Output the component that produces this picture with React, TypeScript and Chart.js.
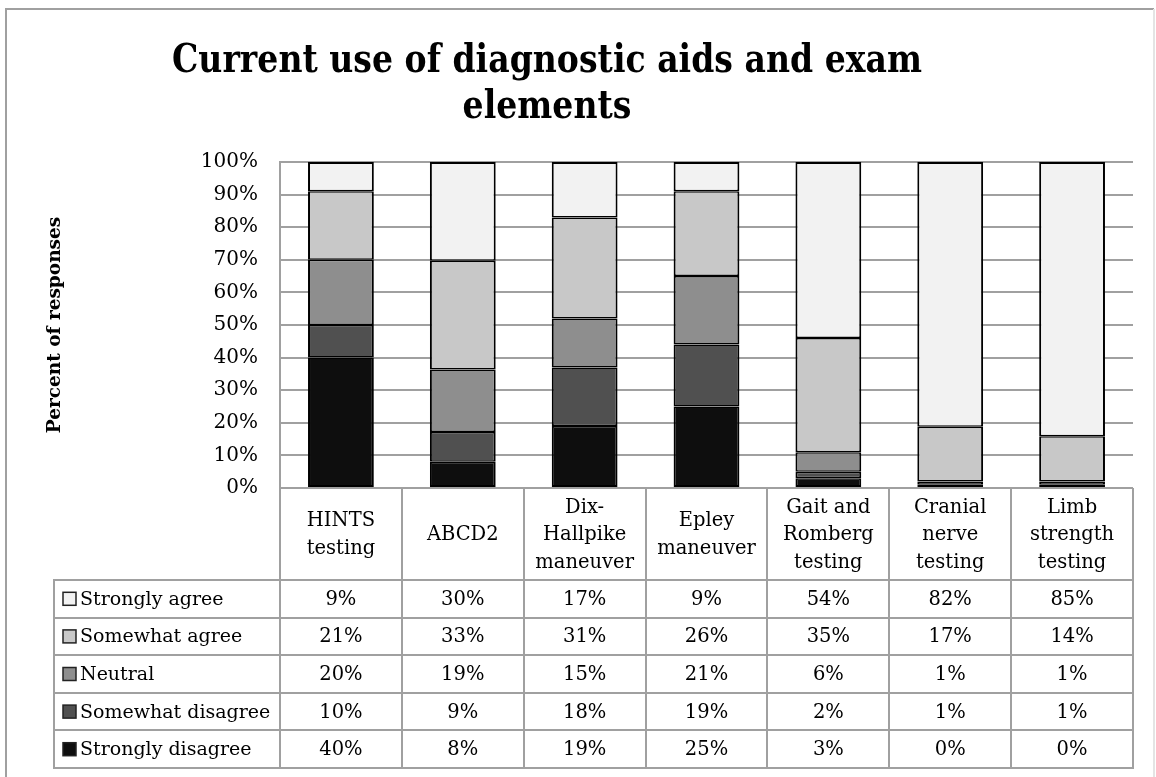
import React, { useEffect, useRef } from 'react';
import { Chart, registerables } from 'chart.js';

Chart.register(...registerables);

// ---- Data ----
const categories: string[][] = [
  ['HINTS', 'testing'],
  ['ABCD2'],
  ['Dix-', 'Hallpike', 'maneuver'],
  ['Epley', 'maneuver'],
  ['Gait and', 'Romberg', 'testing'],
  ['Cranial', 'nerve', 'testing'],
  ['Limb', 'strength', 'testing'],
];
const seriesNames = ['Strongly agree', 'Somewhat agree', 'Neutral', 'Somewhat disagree', 'Strongly disagree'];
const stronglyAgree = [9, 30, 17, 9, 54, 82, 85];
const somewhatAgree = [21, 33, 31, 26, 35, 17, 14];
const neutral = [20, 19, 15, 21, 6, 1, 1];
const somewhatDisagree = [10, 9, 18, 19, 2, 1, 1];
const stronglyDisagree = [40, 8, 19, 25, 3, 0, 0];
const seriesColors = ['#f2f2f2', '#c8c8c8', '#8e8e8e', '#505050', '#0e0e0e'];
const titleLines = ['Current use of diagnostic aids and exam', 'elements'];
const yAxisTitle = 'Percent of responses';

const tableRows = [stronglyAgree, somewhatAgree, neutral, somewhatDisagree, stronglyDisagree];

const GRID = '#a0a0a0';
const FONT = "'DejaVu Serif', serif";

export default function App() {
  const ref = useRef<HTMLCanvasElement | null>(null);

  useEffect(() => {
    const canvas = ref.current;
    if (!canvas) return;

    const totals = categories.map((_, i) => tableRows.reduce((s, r) => s + r[i], 0));
    const norm = (arr: number[]) => arr.map((v, i) => (v * 100) / totals[i]);

    // bottom-to-top stacking order
    const order = [4, 3, 2, 1, 0];
    const datasets = order.map((ri, k) => ({
      label: seriesNames[ri],
      data: norm(tableRows[ri]),
      backgroundColor: seriesColors[ri],
      borderColor: '#000',
      borderWidth: {
        left: 2,
        right: 2,
        top: k === order.length - 1 ? 2 : 1.5,
        bottom: k === 0 ? 2 : 1.5,
      },
      borderSkipped: false as const,
      inflateAmount: 0,
      barPercentage: 0.54,
      categoryPercentage: 1,
    }));

    const frame = {
      id: 'frame',
      beforeDraw(chart: any) {
        const ctx = chart.ctx;
        ctx.save();
        ctx.fillStyle = '#fff';
        ctx.fillRect(0, 0, chart.width, chart.height);
        ctx.strokeStyle = GRID;
        ctx.lineWidth = 2;
        ctx.beginPath();
        ctx.moveTo(6, 800);
        ctx.lineTo(6, 9);
        ctx.lineTo(1154, 9);
        ctx.stroke();
        ctx.strokeStyle = '#e4e4e4';
        ctx.beginPath();
        ctx.moveTo(1154, 9);
        ctx.lineTo(1154, 800);
        ctx.stroke();
        ctx.restore();
      },
    };

    const titlePlugin = {
      id: 'bigTitle',
      afterDraw(chart: any) {
        const ctx = chart.ctx;
        ctx.save();
        ctx.font = `bold 39px ${FONT}`;
        ctx.fillStyle = '#000';
        ctx.textAlign = 'center';
        ctx.textBaseline = 'alphabetic';
        const w = ctx.measureText(titleLines[0]).width;
        const sx = 750 / w;
        const cx = 547;
        const baselines = [72, 118];
        titleLines.forEach((line, i) => {
          ctx.save();
          ctx.translate(cx, baselines[i]);
          ctx.scale(sx, 1);
          ctx.fillText(line, 0, 0);
          ctx.restore();
        });
        ctx.restore();
      },
    };

    const tablePlugin = {
      id: 'dataTable',
      afterDraw(chart: any) {
        const ctx = chart.ctx;
        const xs = chart.scales.x;
        const n = categories.length;
        const left = xs.left;
        const right = xs.right;
        const cw = (right - left) / n;
        const headerTop = chart.chartArea.bottom;
        const headerBottom = 580;
        const rowH = 37.6;
        const tableBottom = headerBottom + rowH * tableRows.length;
        const legendLeft = 54;

        ctx.save();
        ctx.strokeStyle = GRID;
        ctx.lineWidth = 2;
        ctx.beginPath();
        for (let i = 0; i <= n; i++) {
          const x = Math.round(left + i * cw);
          ctx.moveTo(x, headerTop);
          ctx.lineTo(x, tableBottom);
        }
        ctx.moveTo(legendLeft, headerBottom);
        ctx.lineTo(legendLeft, tableBottom);
        for (let r = 0; r <= tableRows.length; r++) {
          const y = Math.round(headerBottom + r * rowH);
          ctx.moveTo(legendLeft - 1, y);
          ctx.lineTo(right + 1, y);
        }
        ctx.stroke();

        ctx.fillStyle = '#000';
        ctx.font = `19.5px ${FONT}`;
        ctx.textAlign = 'center';
        ctx.textBaseline = 'middle';
        const headerMid = (headerTop + headerBottom) / 2 + 1;
        const lh = 27.5;
        categories.forEach((lines, i) => {
          const cx = xs.getPixelForValue(i);
          const start = headerMid - ((lines.length - 1) * lh) / 2;
          lines.forEach((ln, j) => ctx.fillText(ln, cx, start + j * lh));
        });

        tableRows.forEach((row, r) => {
          const cy = headerBottom + r * rowH + rowH / 2 + 1;
          ctx.font = `19.5px ${FONT}`;
          row.forEach((v, i) => {
            ctx.fillStyle = '#000';
            ctx.fillText(`${v}%`, xs.getPixelForValue(i), cy);
          });
          // legend key
          const sz = 13;
          ctx.fillStyle = seriesColors[r];
          ctx.fillRect(63, cy - sz / 2 - 1, sz, sz);
          ctx.strokeStyle = '#222';
          ctx.lineWidth = 1.5;
          ctx.strokeRect(63, cy - sz / 2 - 1, sz, sz);
          ctx.fillStyle = '#000';
          ctx.textAlign = 'left';
          ctx.font = `19px ${FONT}`;
          ctx.fillText(seriesNames[r], 80, cy);
          ctx.textAlign = 'center';
        });
        ctx.restore();
      },
    };

    const chart = new Chart(canvas, {
      type: 'bar',
      data: {
        labels: categories.map((c) => c.join(' ')),
        datasets,
      },
      options: {
        responsive: false,
        animation: false,
        layout: { padding: { top: 162, bottom: 289, left: 30, right: 23 } },
        plugins: {
          legend: { display: false },
          tooltip: { enabled: false },
          title: { display: false },
        },
        scales: {
          x: {
            stacked: true,
            display: false,
          },
          y: {
            stacked: true,
            min: 0,
            max: 100,
            afterFit: (scale: any) => {
              scale.width = 250;
            },
            ticks: {
              stepSize: 10,
              padding: 22,
              color: '#000',
              font: { family: FONT, size: 20 },
              callback: (v: any) => `${v}%`,
            },
            grid: {
              color: GRID,
              lineWidth: 2,
              drawTicks: false,
            },
            border: { display: true, color: GRID, width: 2 },
            title: {
              display: true,
              text: yAxisTitle,
              color: '#000',
              font: { family: FONT, size: 18.5, weight: 'bold' },
              padding: { top: 14, bottom: 0 },
            },
          },
        },
      },
      plugins: [frame, titlePlugin, tablePlugin],
    });

    return () => chart.destroy();
  }, []);

  return (
    <div style={{ position: 'absolute', left: 0, top: 0, width: 1156, height: 777 }}>
      <canvas ref={ref} width={1156} height={777} style={{ display: 'block' }} />
    </div>
  );
}
